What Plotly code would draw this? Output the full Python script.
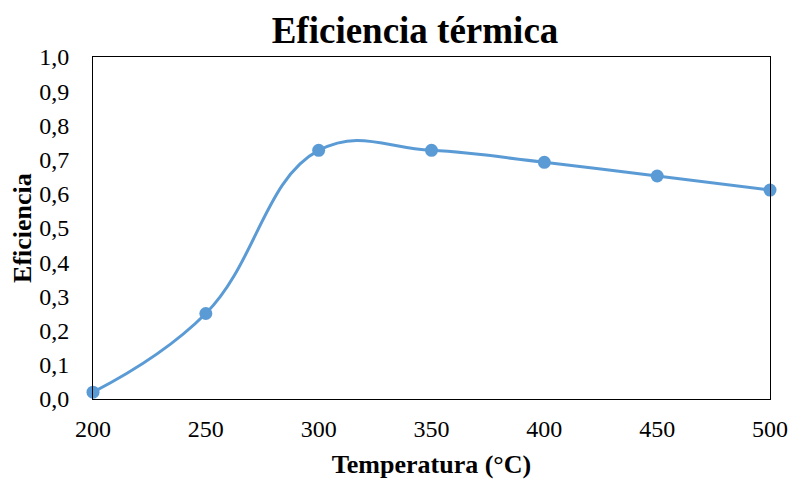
import plotly.graph_objects as go

temperatura = [200, 250, 300, 350, 400, 450, 500]
eficiencia = [0.02, 0.25, 0.727, 0.727, 0.692, 0.652, 0.611]
x_ticks = [200, 250, 300, 350, 400, 450, 500]
y_ticks = [0.0, 0.1, 0.2, 0.3, 0.4, 0.5, 0.6, 0.7, 0.8, 0.9, 1.0]
y_labels = ["0,0", "0,1", "0,2", "0,3", "0,4", "0,5", "0,6", "0,7", "0,8", "0,9", "1,0"]

fig = go.Figure()
fig.add_trace(go.Scatter(
    x=temperatura, y=eficiencia, mode="lines+markers",
    line=dict(color="#5B9BD5", width=3, shape="spline", smoothing=1.2),
    marker=dict(color="#5B9BD5", size=13),
    cliponaxis=False, showlegend=False,
))

font_family = "Liberation Serif, Times New Roman, serif"
fig.update_layout(
    width=792, height=479,
    margin=dict(l=93, r=22, t=57, b=80, autoexpand=False),
    paper_bgcolor="white", plot_bgcolor="white",
    font=dict(family=font_family, color="black", size=24),
    title=dict(text="<b>Eficiencia térmica</b>", x=0.524, xanchor="center",
               y=0.938, yanchor="middle", font=dict(size=37, family=font_family, color="black")),
    xaxis=dict(
        range=[200, 500], tickvals=x_ticks, ticktext=[str(t) for t in x_ticks],
        showgrid=False, zeroline=False, showline=True, linecolor="black", linewidth=1,
        mirror=True, ticks="", ticklen=0, ticklabelstandoff=8, automargin=False,
        title=dict(text="<b>Temperatura (°C)</b>", font=dict(size=26), standoff=14),
        tickfont=dict(size=24),
    ),
    yaxis=dict(
        range=[0, 1.0], tickvals=y_ticks, ticktext=y_labels,
        showgrid=False, zeroline=False, showline=True, linecolor="black", linewidth=1,
        mirror=True, ticks="", ticklen=0, ticklabelstandoff=18, automargin=False,
        tickfont=dict(size=24),
    ),
    annotations=[dict(
        text="<b>Eficiencia</b>", textangle=-90, xref="paper", yref="paper",
        x=-0.105, y=0.5, xanchor="center", yanchor="middle", showarrow=False,
        font=dict(size=26, family=font_family, color="black"),
    )],
)

fig.write_html("out.html")
